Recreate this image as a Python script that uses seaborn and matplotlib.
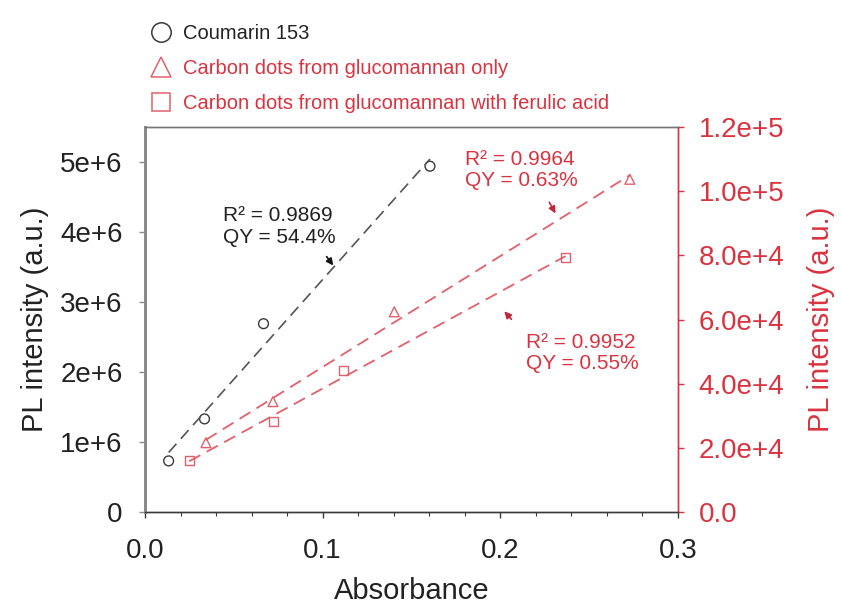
import numpy as np
import pandas as pd
import matplotlib
matplotlib.use("Agg")
import matplotlib.pyplot as plt
from matplotlib.lines import Line2D
from matplotlib.ticker import FixedLocator, FuncFormatter, MultipleLocator
import seaborn as sns

# ---- data ----
coumarin_abs = [0.0133, 0.0335, 0.0667, 0.1604]
coumarin_pl = [0.73e6, 1.33e6, 2.69e6, 4.94e6]

cd_only_abs = [0.0343, 0.0720, 0.1403, 0.2729]
cd_only_pl = [21.6e3, 34.4e3, 62.4e3, 103.7e3]

cd_fa_abs = [0.0249, 0.0721, 0.1118, 0.2367]
cd_fa_pl = [16.2e3, 28.1e3, 44.0e3, 79.4e3]

series_labels = ["Coumarin 153",
                 "Carbon dots from glucomannan only",
                 "Carbon dots from glucomannan with ferulic acid"]
annot_coumarin = "R² = 0.9869\nQY = 54.4%"
annot_cd_only = "R² = 0.9964\nQY = 0.63%"
annot_cd_fa = "R² = 0.9952\nQY = 0.55%"

left_ticks = [0, 1e6, 2e6, 3e6, 4e6, 5e6]
right_ticks = [0, 2e4, 4e4, 6e4, 8e4, 1e5, 1.2e5]
x_ticks = [0.0, 0.1, 0.2, 0.3]

# ---- style ----
sns.set_theme(style="white")
plt.rcParams["font.family"] = ["Liberation Sans", "DejaVu Sans"]

RED = "#DA3340"
RED_LINE = "#E2606B"
DARK = "#3a3a3a"
GRAY = "#8a8a8a"
TXT = "#222222"

fig = plt.figure(figsize=(8.41, 6.10), dpi=100)
ax = fig.add_axes([145 / 841, (610 - 512) / 610, (678 - 145) / 841, (512 - 127) / 610])
ax2 = ax.twinx()

df_c = pd.DataFrame({"x": coumarin_abs, "y": coumarin_pl})
df_o = pd.DataFrame({"x": cd_only_abs, "y": cd_only_pl})
df_f = pd.DataFrame({"x": cd_fa_abs, "y": cd_fa_pl})

sns.regplot(data=df_c, x="x", y="y", ax=ax, ci=None, color=DARK, marker="o",
            scatter_kws=dict(facecolors="none", edgecolors=DARK, s=50, linewidths=1.0, alpha=1),
            line_kws=dict(ls=(0, (7, 4)), lw=1.2, color="#555555"))
sns.regplot(data=df_o, x="x", y="y", ax=ax2, ci=None, color=RED_LINE, marker="^",
            scatter_kws=dict(facecolors="none", edgecolors=RED_LINE, s=50, linewidths=1.0, alpha=1),
            line_kws=dict(ls=(0, (7, 4)), lw=1.3, color=RED_LINE))
sns.regplot(data=df_f, x="x", y="y", ax=ax2, ci=None, color=RED_LINE, marker="s",
            scatter_kws=dict(facecolors="none", edgecolors=RED_LINE, s=42, linewidths=1.0, alpha=1),
            line_kws=dict(ls=(0, (7, 4)), lw=1.3, color=RED_LINE))

# ---- axes ----
ax.set_xlim(0, 0.3)
ax.set_ylim(0, 5.5e6)
ax2.set_ylim(0, 1.2e5)

ax.xaxis.set_major_locator(FixedLocator(x_ticks))
ax.xaxis.set_minor_locator(MultipleLocator(0.02))
ax.xaxis.set_major_formatter(FuncFormatter(lambda v, p: f"{v:.1f}"))
ax.yaxis.set_major_locator(FixedLocator(left_ticks))
ax.yaxis.set_major_formatter(FuncFormatter(lambda v, p: "0" if v == 0 else f"{int(round(v / 1e6))}e+6"))


def right_fmt(v, p):
    if v == 0:
        return "0.0"
    e = int(np.floor(np.log10(v) + 1e-9))
    return f"{v / 10 ** e:.1f}e+{e}"


ax2.yaxis.set_major_locator(FixedLocator(right_ticks))
ax2.yaxis.set_major_formatter(FuncFormatter(right_fmt))

ax.tick_params(axis="x", which="major", direction="out", length=4, width=1, color=DARK,
               labelsize=20, labelcolor=TXT, pad=15, bottom=True)
ax.tick_params(axis="x", which="minor", direction="out", length=3, width=0.8, color=DARK, bottom=True)
ax.tick_params(axis="y", which="major", direction="out", length=4, width=1, color=GRAY,
               labelsize=20, labelcolor=TXT, pad=12, left=True)
ax2.tick_params(axis="y", which="major", direction="out", length=4, width=1, color=RED,
                labelsize=20, labelcolor=RED, pad=11, right=True)

for a in (ax, ax2):
    a.spines["top"].set_color("#777777")
    a.spines["top"].set_linewidth(1.0)
    a.spines["bottom"].set_color(DARK)
    a.spines["bottom"].set_linewidth(1.0)
    a.spines["left"].set_color(GRAY)
    a.spines["left"].set_linewidth(2.0)
    a.spines["right"].set_color(RED)
    a.spines["right"].set_linewidth(1.0)

ax.set_xlabel("Absorbance", fontsize=21, color=TXT, labelpad=9)
ax.set_ylabel("PL intensity (a.u.)", fontsize=21, color=TXT, labelpad=8)
ax2.set_ylabel("PL intensity (a.u.)", fontsize=21, color=RED, labelpad=16)
ax2.grid(False)
ax.grid(False)

# ---- annotations ----
ax.text(0.0439, 4.08e6, annot_coumarin, fontsize=15, color=TXT, ha="left", va="center",
        linespacing=1.15)
ax.annotate("", xy=(0.1069, 3.49e6), xytext=(0.1013, 3.68e6),
            arrowprops=dict(arrowstyle="-|>", color="#111111", lw=1.2, mutation_scale=10))
ax2.text(0.180, 106.6e3, annot_cd_only, fontsize=15, color=RED, ha="left", va="center",
         linespacing=1.15)
ax2.annotate("", xy=(0.2318, 92.3e3), xytext=(0.2268, 97.3e3),
             arrowprops=dict(arrowstyle="-|>", color="#C0283A", lw=1.2, mutation_scale=10))
ax2.text(0.2142, 49.6e3, annot_cd_fa, fontsize=15, color=RED, ha="left", va="center",
         linespacing=1.15)
ax2.annotate("", xy=(0.2012, 63.2e3), xytext=(0.2073, 59.4e3),
             arrowprops=dict(arrowstyle="-|>", color="#C0283A", lw=1.2, mutation_scale=10))

# ---- legend (above the axes) ----
handles = [
    Line2D([], [], ls="none", marker="o", ms=14, mfc="none", mec=DARK, mew=1.1),
    Line2D([], [], ls="none", marker="^", ms=14, mfc="none", mec=RED_LINE, mew=1.1),
    Line2D([], [], ls="none", marker="s", ms=13, mfc="none", mec=RED_LINE, mew=1.1),
]
fig.legend(handles, series_labels, loc="upper left", bbox_to_anchor=(143 / 841, 1 - 16 / 610),
           frameon=False, fontsize=14.5, labelcolor=[TXT, RED, RED],
           handlelength=1.0, handletextpad=0.6, labelspacing=0.8, borderaxespad=0)

fig.savefig("out.png", dpi=100)
